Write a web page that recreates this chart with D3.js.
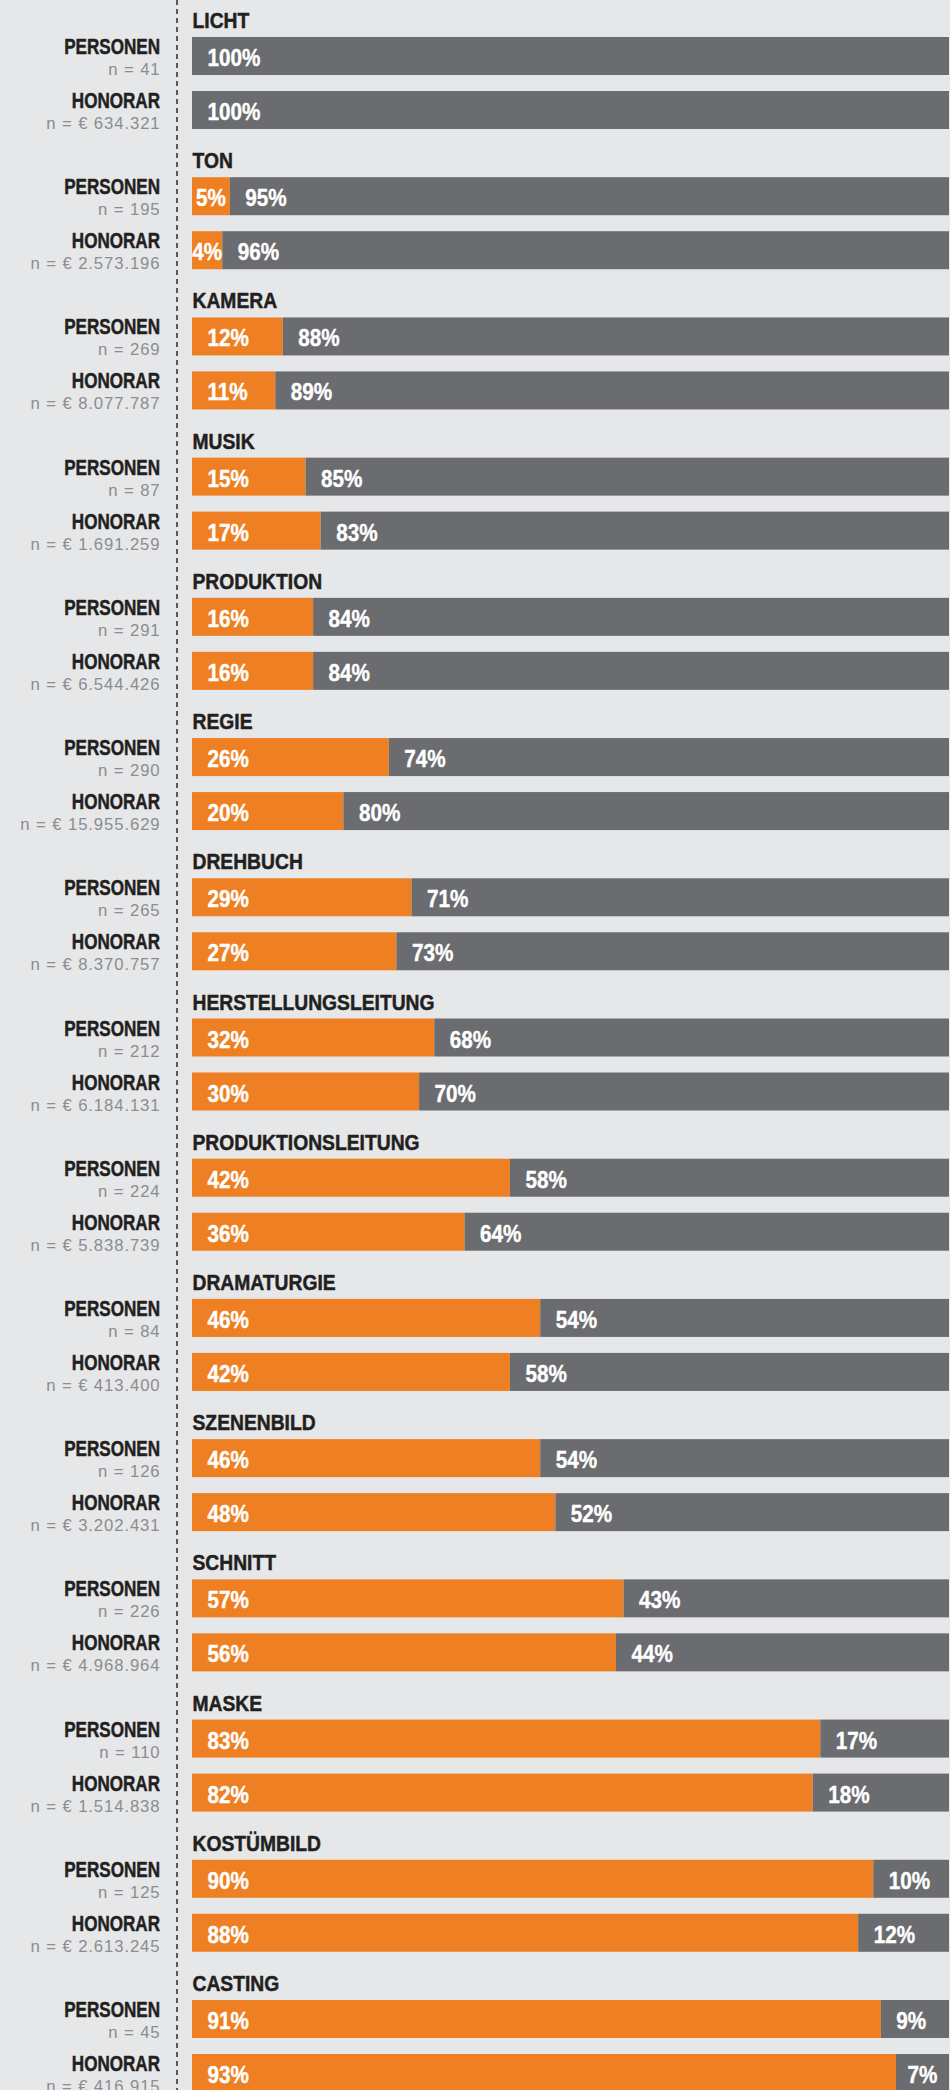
<!DOCTYPE html>
<html>
<head>
<meta charset="utf-8">
<script src="https://cdn.jsdelivr.net/npm/d3@7"></script>
<style>
  html, body { margin: 0; padding: 0; background: #e6e7e8; }
  svg { display: block; }
  .bold { font-family: "Liberation Sans", Arial, Helvetica, sans-serif; font-weight: bold; }
  .light { font-family: "Liberation Sans", Arial, Helvetica, sans-serif; font-weight: normal; }
</style>
</head>
<body>
<svg id="chart" width="950" height="2090"></svg>
<script>
// Berufsgruppen (Gewerke)
const categories = ["LICHT", "TON", "KAMERA", "MUSIK", "PRODUKTION", "REGIE", "DREHBUCH",
  "HERSTELLUNGSLEITUNG", "PRODUKTIONSLEITUNG", "DRAMATURGIE", "SZENENBILD", "SCHNITT",
  "MASKE", "KOSTÜMBILD", "CASTING"];

// Frauenanteil in Prozent (orange), Rest = Männer (grau)
const personenFrauen = [0, 5, 12, 15, 16, 26, 29, 32, 42, 46, 46, 57, 83, 90, 91];
const honorarFrauen  = [0, 4, 11, 17, 16, 20, 27, 30, 36, 42, 48, 56, 82, 88, 93];

// Stichprobengrößen
const personenN = ["41", "195", "269", "87", "291", "290", "265", "212", "224", "84", "126", "226", "110", "125", "45"];
const honorarN  = ["€ 634.321", "€ 2.573.196", "€ 8.077.787", "€ 1.691.259", "€ 6.544.426",
  "€ 15.955.629", "€ 8.370.757", "€ 6.184.131", "€ 5.838.739", "€ 413.400", "€ 3.202.431",
  "€ 4.968.964", "€ 1.514.838", "€ 2.613.245", "€ 416.915"];

const rowLabels = ["PERSONEN", "HONORAR"];

const W = 950, H = 2090;
const ORANGE = "#ee7f22", GREY = "#6b6c70", DARK = "#231f20", LIGHT = "#8c8d8f";

const svg = d3.select("#chart");

const x = d3.scaleLinear().domain([0, 100]).range([192, 949]);
const group = d3.scaleLinear().domain([0, categories.length - 1]).range([37, 2000]);
const barH = 38, rowGap = 54;

// schmal laufende Schrift: horizontal gestauchter Text
function condText(parent, cls, tx, ty, size, sx, anchor, fill, heavy) {
  const t = parent.append("text")
    .attr("class", cls)
    .attr("transform", `translate(${tx},${ty}) scale(${sx},1)`)
    .attr("text-anchor", anchor)
    .attr("font-size", size)
    .attr("fill", fill);
  if (heavy) t.attr("stroke", fill).attr("stroke-width", heavy).attr("stroke-linejoin", "round");
  return t;
}

// gestrichelte Trennlinie
svg.append("line")
  .attr("x1", 177).attr("x2", 177).attr("y1", 0).attr("y2", H)
  .attr("stroke", "#2b2b2b").attr("stroke-width", 1.5)
  .attr("stroke-dasharray", "5,4");

const rows = [];
categories.forEach((c, i) => {
  rows.push({ cat: c, i, r: 0, f: personenFrauen[i], n: "n = " + personenN[i] });
  rows.push({ cat: c, i, r: 1, f: honorarFrauen[i], n: "n = " + honorarN[i] });
});

// Titel je Gewerk
categories.forEach((c, i) => {
  condText(svg, "bold", 192.5, group(i) - 9, 22.7, 0.85, "start", DARK, 0.5).text(c);
});

const g = svg.selectAll("g.row").data(rows).join("g")
  .attr("class", "row")
  .attr("transform", d => `translate(0,${group(d.i) + d.r * rowGap})`);

// Zeilenbeschriftung links
g.each(function (d) {
  const s = d3.select(this);
  condText(s, "bold", 160, 17, 21.9, 0.78, "end", DARK, 0.5).text(rowLabels[d.r]);
  condText(s, "light", 160.5, 38, 16.7, 1, "end", LIGHT)
    .attr("letter-spacing", 0.9).text(d.n);
});

// Balken: Frauen (orange) und Männer (grau)
g.append("rect")
  .attr("x", x(0)).attr("y", 0).attr("height", barH)
  .attr("width", d => x(d.f) - x(0)).attr("fill", ORANGE);
g.append("rect")
  .attr("x", d => x(d.f)).attr("y", 0).attr("height", barH)
  .attr("width", d => x(100) - x(d.f)).attr("fill", GREY);

// Prozentwerte in den Segmenten
const pctScale = 0.88;
function segLabel(sel, start, end, val) {
  sel.each(function (d) {
    const v = val(d);
    if (v <= 0) return;
    const x0 = start(d), w = end(d) - x0;
    const t = condText(d3.select(this), "bold", 0, 29, 23.5, pctScale, "start", "#fff", 0.4)
      .text(v + "%");
    const tw = t.node().getComputedTextLength() * pctScale;
    const tx = x0 + Math.min(15.5, (w - tw) / 2);
    t.attr("transform", `translate(${tx},29) scale(${pctScale},1)`);
  });
}
segLabel(g, d => x(0), d => x(d.f), d => d.f);
segLabel(g, d => x(d.f), d => x(100), d => 100 - d.f);
</script>
</body>
</html>
